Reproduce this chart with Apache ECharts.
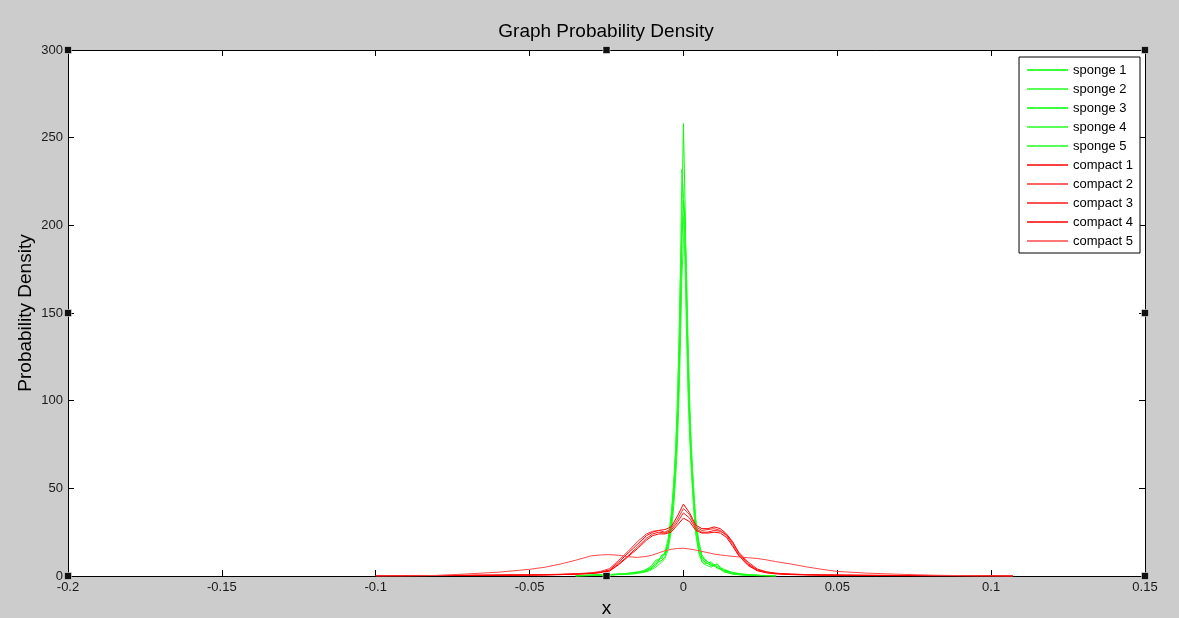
<!DOCTYPE html>
<html>
<head>
<meta charset="utf-8">
<script src="https://cdn.jsdelivr.net/npm/echarts@6/dist/echarts.min.js"></script>
<style>
html,body{margin:0;padding:0;background:#cccccc;}
#chart{width:1179px;height:618px;}
</style>
</head>
<body>
<div id="chart"></div>
<script>
// ---- data ----
const xTicks = [-0.2, -0.15, -0.1, -0.05, 0, 0.05, 0.1, 0.15];
const yTicks = [0, 50, 100, 150, 200, 250, 300];

const spongeX = [-0.035, -0.03, -0.025, -0.02, -0.016, -0.013, -0.011, -0.009, -0.007, -0.006,
  -0.005, -0.004, -0.0035, -0.003, -0.0025, -0.002, -0.0015, -0.001, -0.0005, 0,
  0.0005, 0.001, 0.0015, 0.002, 0.0025, 0.003, 0.0035, 0.004, 0.005, 0.006,
  0.007, 0.009, 0.011, 0.013, 0.016, 0.02, 0.025, 0.03];
const sponge1 = [0,0.3,0.5,1,1.5,2.5,4,7,9,11, 17,30,40,52,68,85,110,150,205,258, 215,160,120,92,70,55,40,28,16,10, 8,6,6.5,3,1.5,0.6,0.3,0];
const sponge2 = [0,0.5,0.8,1.2,2,3,5,8,11,13, 19,33,44,56,72,95,125,170,232,218, 190,150,112,86,66,50,36,25,14,9, 7,8,5,2.5,1.2,0.5,0.2,0];
const sponge3 = [0.2,0.6,0.4,1,1.8,2.2,3.5,6,12,12.5, 18,28,37,48,62,80,108,145,190,214, 205,165,125,95,72,56,42,30,18,11, 9,7,4.5,3.5,1.8,0.8,0.3,0.1];
const sponge4 = [0.1,0.2,0.6,1.4,1.6,2.8,4.5,9,10,14, 21,35,45,58,75,98,130,172,199,205, 180,140,104,80,62,47,34,24,13,8, 6.5,5,7,2.5,1,0.4,0.1,0];
const sponge5 = [0,0.3,0.7,0.8,1.2,2,3,5,8,10, 15,25,33,43,57,74,98,130,170,192, 197,175,135,102,78,60,46,33,20,12, 9.5,6.5,5.5,4,2,1,0.4,0.1];

const compactX = [-0.1, -0.09, -0.08, -0.07, -0.06, -0.05, -0.045, -0.04, -0.035, -0.03,
  -0.027, -0.024, -0.021, -0.018, -0.015, -0.012, -0.01, -0.008, -0.006, -0.004,
  -0.002, 0, 0.002, 0.004, 0.006, 0.008, 0.01, 0.012, 0.014, 0.016,
  0.018, 0.021, 0.024, 0.027, 0.03, 0.035, 0.04, 0.045, 0.05, 0.06,
  0.07, 0.08, 0.09, 0.1, 0.107];
const compact1 = [0.2,0.2,0.3,0.4,0.5,0.6,0.7,0.9,1.2,1.6, 2.2,3.5,8,13,18,23,25,26,26.5,28, 34,41,36,29,27,27,28,27,24,19.5, 13,7,3.5,2.2,1.5,1,0.8,0.6,0.5,0.4, 0.3,0.3,0.2,0.2,0];
const compact2 = [0.1,0.2,0.2,0.3,0.5,0.7,0.8,1,1.3,1.8, 2.6,4.2,9,14,19.5,24,25.5,26,25,27, 32,38.5,35,28,26,26.5,27,26,23,18, 12,6.5,3.2,2,1.4,0.9,0.7,0.6,0.4,0.3, 0.3,0.2,0.2,0.1,0];
const compact3 = [0.2,0.3,0.3,0.4,0.5,0.6,0.7,0.8,1.1,1.5, 2,3,7,11.5,16.5,21.5,24,25,24.5,26, 30.5,36,33,27,25,25,26,25.5,23.5,19, 13.5,8,4,2.4,1.6,1.1,0.8,0.6,0.5,0.4, 0.3,0.2,0.2,0.1,0];
const compact4 = [0.1,0.2,0.3,0.3,0.4,0.5,0.6,0.8,1,1.4, 1.9,2.8,6.5,11,15.5,20.5,23,24,24,25, 29,33,31,26,24.5,24.5,25,24.5,22,17, 11.5,6,3,1.8,1.2,0.8,0.6,0.5,0.4,0.3, 0.2,0.2,0.1,0.1,0];
const compact5 = [0,0,0.3,1.2,2.2,3.8,5,6.8,9,11.5, 12,12.2,11.8,11,10.6,11.2,12,13.2,14.4,15.2, 15.7,15.8,15.4,14.8,14,13.3,12.5,12,11.6,11.2, 10.9,10.4,10,9.2,8.2,6.8,5.2,3.8,2.6,1.6, 1,0.5,0.2,0,0];

const seriesNames = ['sponge 1','sponge 2','sponge 3','sponge 4','sponge 5',
                     'compact 1','compact 2','compact 3','compact 4','compact 5'];
const seriesColors = ['#00ff00','#22ff22','#00ff00','#22ff22','#22ff22',
                      '#ff0000','#ff3030','#ff1a1a','#ff0000','#ff4848'];

// ---- chart ----
const pair = (xs, ys) => xs.map((x, i) => [x, ys[i]]);
const seriesData = [
  pair(spongeX, sponge1), pair(spongeX, sponge2), pair(spongeX, sponge3),
  pair(spongeX, sponge4), pair(spongeX, sponge5),
  pair(compactX, compact1), pair(compactX, compact2), pair(compactX, compact3),
  pair(compactX, compact4), pair(compactX, compact5)
];

const FONT = '"Liberation Sans", Arial, sans-serif';
const fmt = v => String(Math.round(v * 1000) / 1000);

const chart = echarts.init(document.getElementById('chart'), null, {renderer: 'canvas'});

const axisCommon = {
  axisLine: {show: true, onZero: false, lineStyle: {color: '#000', width: 1}},
  axisTick: {show: true, inside: true, length: 6, lineStyle: {color: '#000'}},
  splitLine: {show: false}
};

const option = {
  backgroundColor: '#cccccc',
  animation: false,
  title: {
    text: 'Graph Probability Density',
    left: 606, textAlign: 'center', top: 22, padding: 0,
    textStyle: {fontFamily: FONT, fontSize: 19, fontWeight: 'normal', color: '#000'}
  },
  grid: {left: 68, right: 34, top: 50, bottom: 42, containLabel: false, outerBoundsMode: 'none',
         show: true, backgroundColor: '#ffffff', borderWidth: 0},
  legend: {
    orient: 'vertical', right: 39, top: 57,
    backgroundColor: '#ffffff', borderColor: '#000', borderWidth: 1,
    padding: [6, 7, 5, 8],
    itemWidth: 41, itemHeight: 1.5, itemGap: 5,
    icon: 'rect',
    textStyle: {fontFamily: FONT, fontSize: 13, color: '#000', lineHeight: 14},
    data: seriesNames
  },
  xAxis: [
    Object.assign({
      type: 'value', min: -0.2, max: 0.15, interval: 0.05, position: 'bottom',
      name: 'x', nameLocation: 'middle', nameGap: 19,
      nameTextStyle: {fontFamily: FONT, fontSize: 19, color: '#000'},
      axisLabel: {formatter: fmt, fontFamily: FONT, fontSize: 13, color: '#1a1a1a', margin: 5}
    }, axisCommon),
    Object.assign({
      type: 'value', min: -0.2, max: 0.15, interval: 0.05, position: 'top',
      axisLabel: {show: false}
    }, axisCommon)
  ],
  yAxis: [
    Object.assign({
      type: 'value', min: 0, max: 300, interval: 50, position: 'left',
      name: 'Probability Density', nameLocation: 'middle', nameGap: 33, nameMoveOverlap: false,
      nameTextStyle: {fontFamily: FONT, fontSize: 19, color: '#000'},
      axisLabel: {formatter: fmt, fontFamily: FONT, fontSize: 13, color: '#1a1a1a', margin: 5}
    }, axisCommon),
    Object.assign({
      type: 'value', min: 0, max: 300, interval: 50, position: 'right',
      axisLabel: {show: false}
    }, axisCommon)
  ],
  series: seriesNames.map((name, i) => ({
    name: name,
    type: 'line',
    xAxisIndex: 0, yAxisIndex: 0,
    data: seriesData[i],
    symbol: 'none',
    smooth: false,
    color: seriesColors[i],
    lineStyle: {width: 1, color: seriesColors[i]},
    emphasis: {disabled: true},
    z: i < 5 ? 2 : 3
  }))
};
chart.setOption(option);

// MATLAB-style selection handles on the axes frame (decorations computed from the axes)
const handleAt = [[-0.2, 0], [-0.2, 150], [-0.2, 300], [-0.025, 300],
                  [0.15, 300], [0.15, 150], [0.15, 0], [-0.025, 0]];
const handles = handleAt.map(p => {
  const px = chart.convertToPixel({xAxisIndex: 0, yAxisIndex: 0}, p);
  return {
    type: 'rect', z: 100,
    shape: {x: px[0] - 3.5, y: px[1] - 3.5, width: 7, height: 7},
    style: {fill: '#111', stroke: '#fff', lineWidth: 0.5}
  };
});
chart.setOption({graphic: handles});
</script>
</body>
</html>
